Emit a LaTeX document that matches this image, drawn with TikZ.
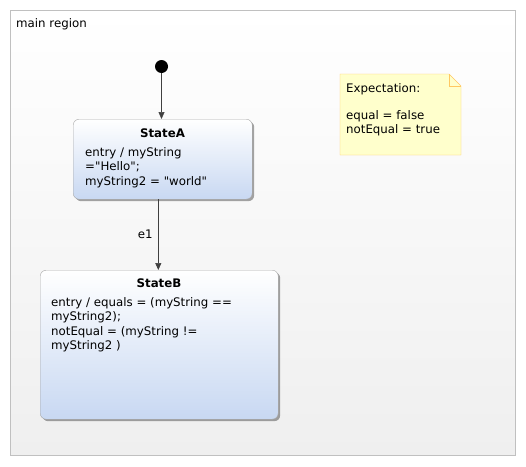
\documentclass[tikz,border=0pt]{standalone}
\usepackage{fontspec}
\setmainfont{DejaVu Sans}[Ligatures=TeXOff]
\usetikzlibrary{arrows.meta,positioning,shadows}
\definecolor{regionbg}{HTML}{EFEFEF}
\definecolor{regionline}{HTML}{C0C0C0}
\definecolor{statefill}{HTML}{C8D8F2}
\definecolor{stateline}{HTML}{A8A8A8}
\definecolor{notefill}{HTML}{FFFFCC}
\definecolor{noteline}{HTML}{FFC862}
\definecolor{edge}{HTML}{404040}

\begin{document}
\begin{tikzpicture}[x=1pt,y=-1pt,
  font=\fontsize{11.8}{14.3}\selectfont,
  region/.style={draw=regionline,top color=white,bottom color=regionbg,
    inner sep=0pt,anchor=north west},
  state/.style={draw=stateline,rounded corners=6pt,top color=white,
    bottom color=statefill,inner sep=0pt,anchor=north west,
    drop shadow={shadow xshift=2pt,shadow yshift=-2pt,fill=black,opacity=0.35}},
  title/.style={font=\fontsize{11.8}{14}\selectfont\bfseries,anchor=base},
  body/.style={align=left,anchor=north west,inner sep=0pt},
  flow/.style={edge,line width=0.6pt,-{Triangle[length=7pt,width=6pt]}}]
  \useasboundingbox (0,0) rectangle (526,466);

  % region
  \node[region,minimum width=505pt,minimum height=445pt] (main) at (10,10) {};
  \node[anchor=base west,inner sep=0pt] (mainlabel) at (16,27) {main region};

  % initial pseudo state
  \node[circle,fill=black,minimum size=13pt,inner sep=0pt] (init) at (161.5,66.5) {};

  % StateA
  \node[state,minimum width=179pt,minimum height=80pt] (stateA) at (73,119) {};
  \node[title] (titleA) at (162.5,137) {StateA};
  \node[body] (bodyA) at (85,147.5) {entry / myString\\="Hello";\\myString2 = "world"};

  % StateB
  \node[state,minimum width=238pt,minimum height=149pt] (stateB) at (40,270) {};
  \node[title] (titleB) at (159,287) {StateB};
  \node[body] (bodyB) at (51,297.5) {entry / equals = (myString ==\\myString2);\\notEqual = (myString !=\\myString2 )};

  % transitions
  \draw[flow] (init) -- (init |- stateA.north);
  \draw[flow] (stateA.south -| 158.3,0) -- node[left=2pt,text=black] (e1) {e1} (stateB.north -| 158.3,0);

  % note
  \draw[noteline,fill=notefill] (340,74) -- (449,74) -- (461,86) -- (461,155) -- (340,155) -- cycle;
  \draw[noteline] (449,74) -- (449,86) -- (461,86);
  \node[body,font=\fontsize{11.8}{13.5}\selectfont] (note) at (346,83.5) {Expectation:\\[13.5pt]equal = false\\notEqual = true};
\end{tikzpicture}
\end{document}
